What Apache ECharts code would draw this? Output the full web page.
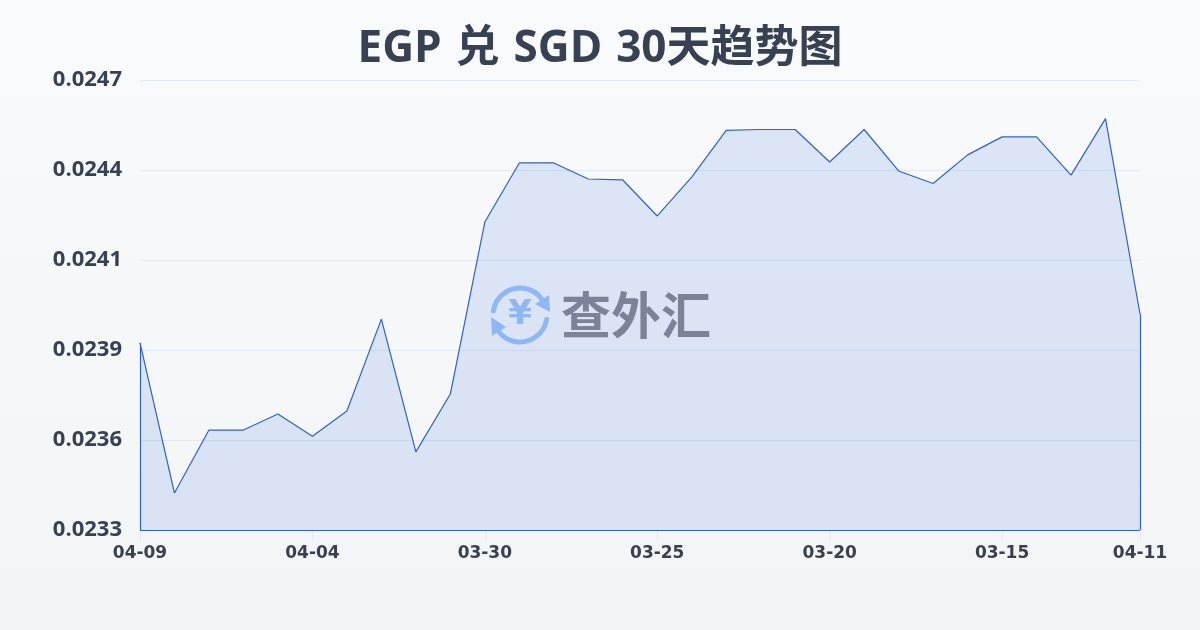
<!DOCTYPE html>
<html><head><meta charset="utf-8">
<style>html,body{margin:0;padding:0;width:1200px;height:630px;overflow:hidden}#c{width:1200px;height:630px}</style>
<script src="https://cdn.jsdelivr.net/npm/echarts@6/dist/echarts.min.js"></script>
</head><body><div id="c"></div>
<script>
const titleText = 'EGP 兑 SGD 30天趋势图';
const categories = ['04-09','04-08','04-07','04-06','04-05','04-04','04-03','04-02','04-01','03-31','03-30','03-29','03-28','03-27','03-26','03-25','03-24','03-23','03-22','03-21','03-20','03-19','03-18','03-17','03-16','03-15','03-14','03-13','03-12','04-11'];
const rates = [0.023882,0.023415,0.023611,0.023611,0.023661,0.023592,0.02367,0.023956,0.023543,0.023723,0.024258,0.024442,0.024442,0.024392,0.024389,0.024277,0.024398,0.024543,0.024546,0.024546,0.024445,0.024546,0.024417,0.024378,0.024467,0.024523,0.024523,0.024404,0.02458,0.023972];
const yTicks = [0.0233,0.02358,0.02386,0.02414,0.02442,0.0247];
const yMin = 0.0233, yMax = 0.0247;
const lineColor = '#2f62c4';
const lastIdx = categories.length - 1;
const showIdx = (i) => i % 5 === 0 && i < lastIdx - 2 || i === lastIdx;
const titleFont = '"Open Sans","Noto Sans CJK SC"';

const chart = echarts.init(document.getElementById('c'), null, {renderer:'canvas'});
chart.setOption({
  animation:false,
  backgroundColor:new echarts.graphic.LinearGradient(0,0,0,1,[{offset:0,color:'#f8fafc'},{offset:1,color:'#f3f4f6'}]),
  title:{text:titleText.split(' ').join('{s| }'),left:'center',top:16,textStyle:{fontFamily:titleFont,fontSize:44,fontWeight:'bold',color:'#374151',lineHeight:56,
    rich:{s:{fontFamily:'"DejaVu Sans"',fontSize:40,fontWeight:'bold',lineHeight:56}}}},
  grid:{left:140,right:60,top:80,bottom:100},
  xAxis:{type:'category',boundaryGap:false,data:categories,
    axisLine:{show:true,lineStyle:{color:'#e2e8f0'}},
    axisTick:{show:true,length:10,interval:(i)=>showIdx(i),lineStyle:{color:'#e2e8f0'}},
    axisLabel:{interval:(i)=>showIdx(i),showMinLabel:true,showMaxLabel:true,hideOverlap:false,margin:15,fontFamily:'"DejaVu Sans"',fontSize:17,fontWeight:'bold',color:'#374151'},
    splitLine:{show:false}},
  yAxis:{type:'value',min:yMin,max:yMax,
    axisLine:{show:false},
    axisTick:{show:false,customValues:yTicks},
    axisLabel:{customValues:yTicks,formatter:(v)=>v.toFixed(4),margin:18,padding:[0,0,3,0],fontFamily:'"Open Sans"',fontSize:22,fontWeight:'bold',color:'#374151'},
    splitLine:{show:true,customValues:yTicks,lineStyle:{color:'#e2e8f0',width:1}}},
  series:[{type:'line',data:rates,symbol:'none',smooth:false,
    lineStyle:{color:lineColor,width:1.2},
    areaStyle:{color:'rgba(45,105,220,0.19)',origin:'start'},
    markLine:{silent:true,symbol:'none',label:{show:false},animation:false,
      lineStyle:{color:lineColor,width:1.2,type:'solid'},
      data:[
        [{xAxis:0,yAxis:rates[0]},{xAxis:0,yAxis:yMin}],
        [{xAxis:0,yAxis:yMin},{xAxis:lastIdx,yAxis:yMin}],
        [{xAxis:lastIdx,yAxis:yMin},{xAxis:lastIdx,yAxis:rates[lastIdx]}]
      ]}
  }],
  graphic:[
    {type:'arc',z:50,shape:{cx:520,cy:315,r:27,startAngle:Math.PI*1.05,endAngle:Math.PI*1.8,clockwise:true},style:{fill:'none',stroke:'#8fb6f5',lineWidth:5,lineCap:'round'}},
    {type:'arc',z:50,shape:{cx:520,cy:315,r:27,startAngle:Math.PI*0.05,endAngle:Math.PI*0.8,clockwise:true},style:{fill:'none',stroke:'#8fb6f5',lineWidth:5,lineCap:'round'}},
    {type:'polygon',z:50,shape:{points:[[549,295],[550,312],[535,304]]},style:{fill:'#8fb6f5'}},
    {type:'polygon',z:50,shape:{points:[[491,317],[506,327],[492,336]]},style:{fill:'#8fb6f5'}},
    {type:'text',z:50,style:{text:'¥',x:520,y:315,align:'center',verticalAlign:'middle',fontFamily:'"DejaVu Sans"',fontWeight:'bold',fontSize:34,fill:'#8fb6f5'}},
    {type:'text',z:50,style:{text:'查外汇',x:561,y:315,align:'left',verticalAlign:'middle',fontFamily:'"Noto Sans CJK SC"',fontWeight:'bold',fontSize:50,fill:'#7a8397'}}
  ]
});
</script></body></html>
